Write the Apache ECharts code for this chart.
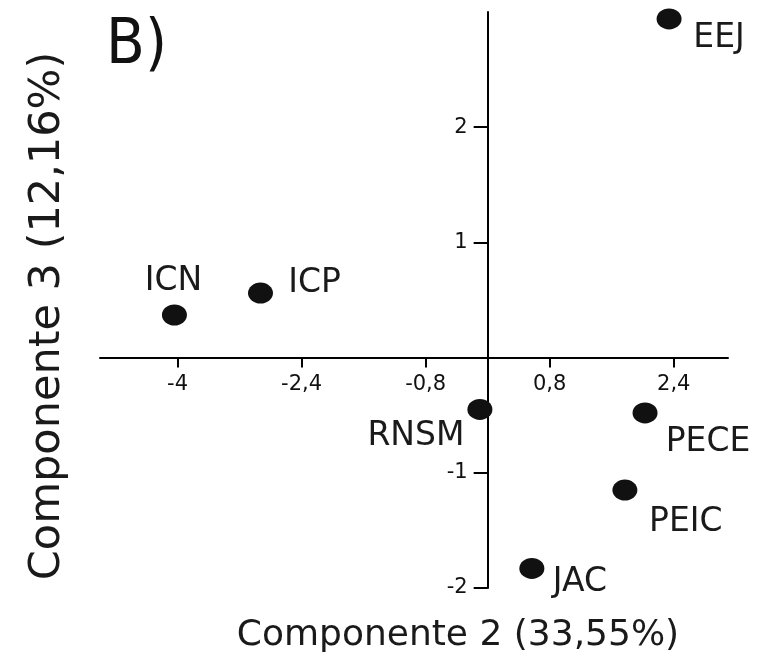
<!DOCTYPE html>
<html><head><meta charset="utf-8">
<script src="https://cdn.jsdelivr.net/npm/echarts@6/dist/echarts.min.js"></script>
<style>html,body{margin:0;padding:0;background:#fff}#c{width:760px;height:664px}</style>
</head><body><div id="c"></div>
<script>
var names = ['EEJ','ICN','ICP','RNSM','PECE','PEIC','JAC'];
var comp2 = [2.34,-4.04,-2.93,-0.10,2.03,1.77,0.57];
var comp3 = [2.94,0.37,0.56,-0.45,-0.48,-1.15,-1.83];
var xTicks = [-4,-2.4,-0.8,0.8,2.4];
var yTicks = [-2,-1,1,2];
var labelOffsets = {EEJ:[50,20],ICN:[-1,-34],ICP:[54,-10],RNSM:[-64,27],PECE:[63,30],PEIC:[61,32],JAC:[48,14]};
var F = 'DejaVu Sans';
var W = 760, H = 664;
var G = {left:100,right:32,top:12,bottom:76};
var xMin = -5, xMax = 3.1, yMin = -2, yMax = 3;
var gw = W - G.left - G.right, gh = H - G.top - G.bottom;
// move axes so they cross at the origin
var xOff = -(0 - yMin) / (yMax - yMin) * gh;
var yOff = -(0 - xMin) / (xMax - xMin) * gw;
var data = names.map(function(n,i){
  return {name:n, value:[comp2[i],comp3[i]], label:{offset:labelOffsets[n]}};
});
var fmt = function(v){return String(v).replace('.',',');};
var chart = echarts.init(document.getElementById('c'));
chart.setOption({
  animation:false,
  backgroundColor:'#fff',
  title:{text:'B)',left:101,top:10,textStyle:{fontFamily:'Liberation Sans Narrow, DejaVu Sans Condensed',fontWeight:'normal',fontSize:63,color:'#111'}},
  grid:{left:G.left,right:G.right,top:G.top,bottom:G.bottom,containLabel:false,outerBoundsMode:'none'},
  xAxis:{type:'value',min:xMin,max:xMax,position:'bottom',offset:xOff,
    name:'Componente 2 (33,55%)',nameLocation:'middle',nameGap:260,
    nameTextStyle:{fontFamily:F,fontSize:36,color:'#1a1a1a',padding:[0,0,0,88]},
    axisLine:{onZero:false,lineStyle:{color:'#000',width:2}},
    axisTick:{show:true,customValues:xTicks,length:10,lineStyle:{color:'#000',width:2}},
    axisLabel:{customValues:xTicks,formatter:fmt,fontFamily:F,fontSize:21,color:'#111',margin:16},
    splitLine:{show:false}},
  yAxis:{type:'value',min:yMin,max:yMax,position:'left',offset:yOff,
    name:'Componente 3 (12,16%)',nameLocation:'middle',nameGap:418,nameRotate:90,
    nameTextStyle:{fontFamily:F,fontSize:43,color:'#1a1a1a',padding:[0,32,0,0]},
    axisLine:{onZero:false,lineStyle:{color:'#000',width:2}},
    axisTick:{show:true,customValues:yTicks,length:14,lineStyle:{color:'#000',width:2}},
    axisLabel:{customValues:yTicks,formatter:fmt,fontFamily:F,fontSize:21,color:'#111',margin:20},
    splitLine:{show:false}},
  series:[{type:'scatter',data:data,symbol:'circle',symbolSize:[25,21],
    itemStyle:{color:'#111',opacity:1},
    label:{show:true,position:'inside',formatter:'{b}',align:'center',verticalAlign:'middle',
      fontFamily:F,fontSize:33,color:'#1a1a1a'}}]
});
</script></body></html>
